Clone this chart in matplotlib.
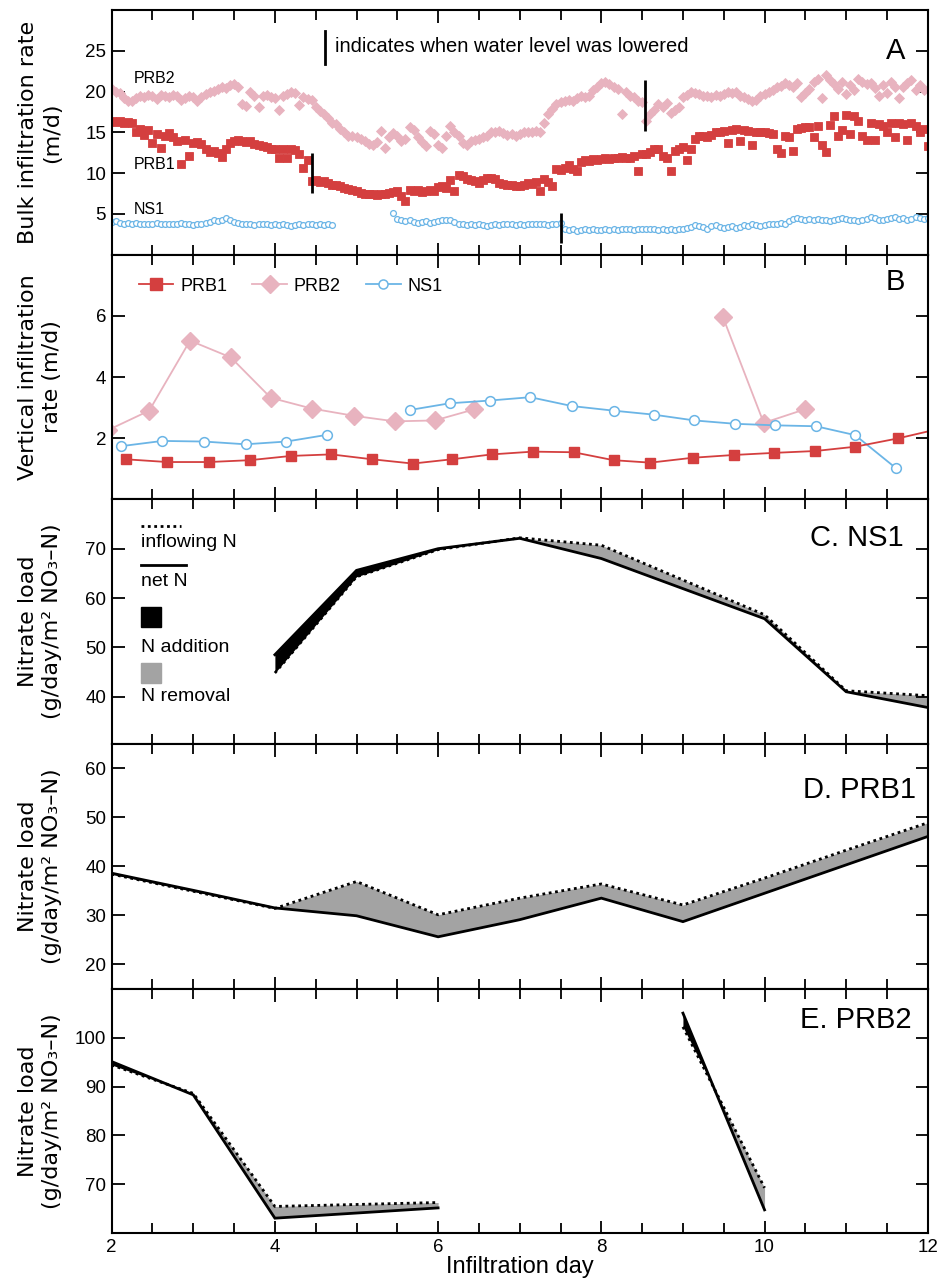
import numpy as np
import matplotlib
matplotlib.use("Agg")
import matplotlib.pyplot as plt
from matplotlib import font_manager as fm
from matplotlib.ticker import MultipleLocator, FixedLocator
from matplotlib.lines import Line2D
from matplotlib.patches import Rectangle


def has_font(name):
    try:
        fm.findfont(fm.FontProperties(family=name), fallback_to_default=False)
        return True
    except Exception:
        return False


TXT = 'Liberation Sans' if has_font('Liberation Sans') else 'DejaVu Sans'
LAB = 'DejaVu Sans'
plt.rcParams['font.family'] = [TXT, 'DejaVu Sans']

# ---------------- data ----------------
# Panel A: bulk infiltration rate (m/d), sampled every 0.05 day from day 2 to 12
a_days = np.round(np.arange(2.0, 12.0001, 0.05), 2)
a_prb1 = [
    16.4, 16.3, 16.4, 16.2, 16.3, 16.1, 15.0, 15.4, 14.7, 15.3,
    13.7, 14.8, 13.1, 14.6, 14.9, 14.4, 13.9, 11.1, 14.0, 12.1,
    13.7, 13.8, 13.6, 12.9, 12.6, 12.7, 12.5, 12.0, 13.0, 13.7,
    13.9, 14.0, 13.9, 13.8, 13.9, 13.6, 13.5, 13.3, 13.2, 13.0,
    13.0, 11.8, 13.0, 11.9, 13.0, 12.8, 12.3, 10.6, 11.6, 9.0,
    9.1, 8.9, 9.0, 8.8, 8.6, 8.5, 8.4, 8.2, 8.0, 7.9,
    7.8, 7.6, 7.5, 7.4, 7.4, 7.3, 7.5, 7.4, 7.6, 7.7,
    7.8, 7.2, 6.6, 7.9, 7.8, 7.9, 7.7, 7.8, 7.9, 7.8,
    8.3, 8.4, 8.2, 9.2, 7.8, 9.8, 9.6, 9.3, 9.1, 9.0,
    8.8, 9.2, 9.4, 9.4, 9.3, 8.8, 8.7, 8.6, 8.5, 8.4,
    8.4, 8.6, 8.8, 8.7, 8.9, 7.8, 9.3, 8.9, 8.4, 10.5,
    10.4, 10.6, 11.0, 10.5, 10.3, 11.4, 11.6, 11.5, 11.7, 11.6,
    11.7, 11.8, 11.7, 11.9, 11.9, 12.0, 11.9, 11.8, 12.1, 10.3,
    12.3, 12.4, 12.6, 12.9, 12.9, 12.1, 11.8, 10.2, 12.7, 13.0,
    13.2, 11.6, 12.9, 14.2, 14.5, 14.6, 14.4, 14.7, 15.0, 15.1,
    15.2, 13.7, 15.3, 15.4, 13.9, 15.3, 15.2, 13.5, 15.1, 15.0,
    15.0, 14.9, 14.8, 12.9, 12.5, 14.5, 14.4, 12.7, 15.4, 15.5,
    15.6, 15.7, 14.4, 15.8, 13.5, 12.6, 15.9, 17.0, 14.6, 15.3,
    17.1, 14.8, 17.0, 16.4, 14.6, 14.0, 16.2, 14.0, 16.0, 15.8,
    15.0, 16.2, 14.4, 16.1, 16.0, 14.1, 16.2, 15.8, 15.0, 15.4,
    13.3,
]
a_prb2 = [
    20.3, 20.0, 19.8, 19.2, 18.9, 18.8, 19.2, 19.5, 19.3, 19.6,
    19.4, 19.1, 19.6, 19.5, 19.3, 19.6, 19.4, 19.0, 19.2, 19.5,
    19.3, 18.9, 19.3, 19.7, 19.9, 20.1, 20.3, 20.5, 20.4, 20.8,
    20.9, 20.6, 18.5, 18.2, 19.9, 19.4, 18.1, 19.5, 19.6, 19.3,
    19.2, 17.7, 19.5, 19.7, 19.9, 19.8, 18.4, 19.3, 19.1, 19.0,
    18.1, 17.6, 17.2, 16.7, 16.2, 16.0, 15.4, 15.0, 14.6, 14.5,
    14.4, 14.2, 13.9, 13.6, 13.5, 13.8, 15.2, 13.1, 14.4, 14.9,
    14.5, 13.9, 14.2, 15.6, 15.3, 14.4, 13.8, 13.3, 15.2, 14.8,
    13.5, 13.1, 14.6, 15.8, 15.1, 14.6, 13.7, 13.4, 13.9, 14.1,
    14.2, 14.4, 14.6, 15.0, 15.1, 15.2, 14.9, 14.7, 14.8, 14.6,
    14.8, 15.0, 15.1, 15.0, 15.2, 15.1, 16.2, 17.3, 17.9, 18.5,
    18.7, 18.8, 19.0, 18.9, 19.2, 19.5, 19.3, 19.4, 20.2, 20.6,
    21.0, 21.2, 20.9, 20.5, 20.3, 17.2, 19.9, 19.5, 19.3, 18.8,
    18.7, 16.4, 17.2, 17.8, 18.5, 18.1, 18.6, 17.4, 17.8, 18.1,
    19.3, 19.6, 19.9, 19.8, 19.7, 19.5, 19.4, 19.3, 19.6, 19.5,
    19.7, 19.9, 19.8, 19.9, 19.5, 19.3, 19.1, 18.9, 19.0, 19.4,
    19.7, 19.9, 20.2, 20.5, 20.7, 21.0, 20.8, 20.5, 21.0, 19.3,
    19.8, 20.3, 21.2, 21.6, 19.2, 22.0, 21.4, 20.9, 20.3, 21.2,
    19.7, 20.8, 20.2, 21.6, 21.2, 20.9, 21.1, 20.4, 19.5, 20.8,
    19.8, 21.2, 20.5, 19.2, 20.6, 21.0, 21.4, 20.2, 20.8, 20.2,
    20.3,
]
nan = float('nan')
a_ns1 = [
    4.0, 4.1, 3.9, 3.8, 3.9, 3.8, 3.9, 3.8, 3.8, 3.7,
    3.8, 3.9, 3.8, 3.7, 3.8, 3.7, 3.8, 3.9, 3.8, 3.7,
    3.6, 3.7, 3.8, 3.9, 4.0, 4.2, 4.1, 4.3, 4.5, 4.2,
    4.0, 3.9, 3.8, 3.7, 3.8, 3.6, 3.7, 3.8, 3.7, 3.6,
    3.7, 3.6, 3.7, 3.6, 3.5, 3.6, 3.7, 3.6, 3.7, 3.8,
    3.6, 3.7, 3.6, 3.7, 3.6, nan, nan, nan, nan, nan,
    nan, nan, nan, nan, nan, nan, nan, nan, nan, 5.1,
    4.4, 4.3, 4.1, 4.2, 4.0, 3.9, 4.0, 4.1, 3.9, 4.0,
    4.1, 4.2, 4.3, 4.2, 4.0, 3.8, 3.7, 3.6, 3.7, 3.6,
    3.7, 3.6, 3.5, 3.6, 3.7, 3.6, 3.7, 3.8, 3.7, 3.6,
    3.7, 3.6, 3.7, 3.8, 3.7, 3.8, 3.7, 3.6, 3.7, 3.8,
    3.9, 3.1, 3.0, 3.1, 2.9, 3.0, 3.1, 3.0, 3.1, 3.0,
    3.0, 3.1, 3.0, 3.1, 3.0, 3.1, 3.2, 3.1, 3.0, 3.1,
    3.2, 3.1, 3.2, 3.1, 3.0, 3.1, 3.0, 3.1, 3.0, 3.1,
    3.2, 3.3, 3.4, 3.6, 3.5, 3.4, 3.2, 3.5, 3.6, 3.4,
    3.3, 3.4, 3.5, 3.3, 3.4, 3.6, 3.5, 3.7, 3.6, 3.5,
    3.6, 3.7, 3.8, 3.7, 3.9, 3.8, 4.1, 4.4, 4.5, 4.4,
    4.3, 4.4, 4.2, 4.4, 4.3, 4.2, 4.1, 4.2, 4.4, 4.5,
    4.4, 4.3, 4.2, 4.1, 4.2, 4.4, 4.6, 4.5, 4.3, 4.2,
    4.4, 4.5, 4.6, 4.4, 4.5, 4.3, 4.4, 4.6, 4.5, 4.4,
    4.5,
]
# water level lowering events (day, from, to) in panel A
lower_days = [4.45, 7.51, 8.54]
lower_from = [7.6, 1.4, 15.2]
lower_to = [12.5, 5.1, 21.4]

# Panel B: vertical infiltration rate (m/d)
b_prb1_days = [2.17, 2.68, 3.19, 3.69, 4.20, 4.69, 5.19, 5.69, 6.17, 6.66,
               7.16, 7.66, 8.15, 8.60, 9.12, 9.62, 10.12, 10.62, 11.11, 11.63, 12.13]
b_prb1 = [1.31, 1.22, 1.22, 1.28, 1.42, 1.47, 1.31, 1.17, 1.31, 1.47,
          1.56, 1.54, 1.28, 1.20, 1.36, 1.45, 1.52, 1.58, 1.72, 1.99, 2.30]
b_prb2_days_1 = [1.96, 2.46, 2.96, 3.46, 3.95, 4.45, 4.97, 5.47, 5.96, 6.44]
b_prb2_1 = [2.27, 2.90, 5.19, 4.64, 3.32, 2.97, 2.73, 2.55, 2.58, 2.94]
b_prb2_days_2 = [9.49, 9.99, 10.49]
b_prb2_2 = [5.96, 2.50, 2.94]
b_ns1_days_1 = [2.12, 2.62, 3.13, 3.64, 4.14, 4.64]
b_ns1_1 = [1.74, 1.91, 1.89, 1.80, 1.89, 2.11]
b_ns1_days_2 = [5.65, 6.14, 6.63, 7.13, 7.64, 8.15, 8.64, 9.14, 9.64, 10.13, 10.63, 11.11, 11.61]
b_ns1_2 = [2.92, 3.14, 3.23, 3.34, 3.05, 2.90, 2.77, 2.58, 2.47, 2.42, 2.39, 2.10, 1.02]

# Panel C: NS1 nitrate load
c_days = [4, 5, 6, 7, 8, 10, 11, 12]
c_inflow = [44.8, 64.3, 69.8, 72.2, 70.7, 56.6, 41.2, 40.2]
c_net = [48.5, 65.6, 70.0, 72.1, 68.0, 55.8, 41.0, 37.8]

# Panel D: PRB1 nitrate load
d_days = [2, 3, 4, 5, 6, 7, 8, 9, 10, 11, 12]
d_inflow = [38.4, 34.9, 31.4, 36.9, 30.1, 33.5, 36.4, 32.1, 37.6, 43.3, 48.9]
d_net = [38.6, 35.1, 31.5, 29.9, 25.6, 29.1, 33.5, 28.7, 34.5, 40.3, 46.1]

# Panel E: PRB2 nitrate load (two sampling periods)
e_days_1 = [2, 3, 4, 6]
e_inflow_1 = [94.4, 88.6, 65.5, 66.3]
e_net_1 = [95.1, 88.3, 63.1, 65.2]
e_days_2 = [9, 10]
e_inflow_2 = [102.2, 69.3]
e_net_2 = [105.0, 64.8]

# ---------------- style ----------------
RED = '#d43f3f'
PINK = '#e8b3bf'
BLUE = '#6bb5e6'
GREY = '#a3a3a3'
TICK_FS = 13.5
YLAB_FS = 16

fig = plt.figure(figsize=(9.44, 12.83), dpi=100)
gs = fig.add_gridspec(5, 1, left=0.1183, right=0.9828, bottom=0.0387, top=0.9922, hspace=0)
axes = [fig.add_subplot(gs[i]) for i in range(5)]

for i, ax in enumerate(axes):
    ax.set_xlim(2, 12)
    ax.xaxis.set_major_locator(MultipleLocator(2))
    ax.xaxis.set_minor_locator(MultipleLocator(0.5))
    ax.tick_params(axis='both', which='both', direction='in', top=True, right=True,
                   width=1.3, labelsize=TICK_FS, pad=4)
    ax.tick_params(axis='x', which='major', length=9)
    ax.tick_params(axis='x', which='minor', length=7.5)
    ax.tick_params(axis='y', which='major', length=9)
    for s in ax.spines.values():
        s.set_linewidth(1.5)
    if i < 4:
        ax.tick_params(axis='x', labelbottom=False)

# ---- Panel A ----
ax = axes[0]
ax.plot(a_days, a_prb2, ls='none', marker='D', ms=5.5, color=PINK, mec=PINK, mew=0.6)
ax.plot(a_days, a_prb1, ls='none', marker='s', ms=6.0, color=RED, mec=RED, mew=0.6)
ax.plot(a_days, a_ns1, ls='none', marker='o', ms=4.2, mfc='white', mec=BLUE, mew=0.9)
ax.vlines(lower_days, lower_from, lower_to, colors='black', lw=2)
ax.set_ylim(0, 30)
ax.yaxis.set_major_locator(FixedLocator([5, 10, 15, 20, 25]))
ax.set_ylabel('Bulk infiltration rate\n(m/d)', fontsize=YLAB_FS, family=LAB, linespacing=1.25)
ax.plot([0.261, 0.261], [0.78, 0.913], transform=ax.transAxes, color='black', lw=2)
ax.text(0.274, 0.85, 'indicates when water level was lowered', transform=ax.transAxes,
        fontsize=14.5, va='center', ha='left')
ax.text(0.027, 0.72, 'PRB2', transform=ax.transAxes, fontsize=11.5, va='center')
ax.text(0.027, 0.37, 'PRB1', transform=ax.transAxes, fontsize=11.5, va='center')
ax.text(0.027, 0.183, 'NS1', transform=ax.transAxes, fontsize=11.5, va='center')
ax.text(0.972, 0.833, 'A', transform=ax.transAxes, fontsize=21, ha='right', va='center')

# ---- Panel B ----
ax = axes[1]
ax.plot(b_prb2_days_1, b_prb2_1, '-', marker='D', ms=9, color=PINK, lw=1.3)
ax.plot(b_prb2_days_2, b_prb2_2, '-', marker='D', ms=9, color=PINK, lw=1.3)
ax.plot(b_ns1_days_1, b_ns1_1, '-', marker='o', ms=7, mfc='white', mec=BLUE, mew=1.1, color=BLUE, lw=1.3)
ax.plot(b_ns1_days_2, b_ns1_2, '-', marker='o', ms=7, mfc='white', mec=BLUE, mew=1.1, color=BLUE, lw=1.3)
ax.plot(b_prb1_days, b_prb1, '-', marker='s', ms=7.5, color=RED, lw=1.3)
ax.set_ylim(0, 8)
ax.yaxis.set_major_locator(FixedLocator([2, 4, 6]))
ax.set_ylabel('Vertical infiltration\nrate (m/d)', fontsize=YLAB_FS, family=LAB, linespacing=1.25)
handles = [
    Line2D([], [], color=RED, marker='s', ms=8, lw=1.3),
    Line2D([], [], color=PINK, marker='D', ms=9, lw=1.3),
    Line2D([], [], color=BLUE, marker='o', ms=6.5, mfc='white', mec=BLUE, mew=1.1, lw=1.3),
]
ax.legend(handles, ['PRB1', 'PRB2', 'NS1'], loc='center left', bbox_to_anchor=(0.033, 0.871),
          ncol=3, frameon=False, fontsize=13, handlelength=1.9, handletextpad=0.4,
          columnspacing=1.4, borderaxespad=0, borderpad=0)
ax.text(0.972, 0.89, 'B', transform=ax.transAxes, fontsize=21, ha='right', va='center')


def load_panel(ax, days, inflow, net):
    d = np.asarray(days, float)
    i_ = np.asarray(inflow, float)
    n_ = np.asarray(net, float)
    ax.fill_between(d, i_, n_, where=n_ >= i_, interpolate=True, color='black', lw=0)
    ax.fill_between(d, i_, n_, where=n_ <= i_, interpolate=True, color=GREY, lw=0)
    ax.plot(d, n_, color='black', lw=2.0, solid_joinstyle='miter')
    ax.plot(d, i_, color='black', lw=2.0, ls=(0, (1, 1.3)))


# ---- Panel C ----
ax = axes[2]
load_panel(ax, c_days, c_inflow, c_net)
ax.set_ylim(30.4, 80)
ax.yaxis.set_major_locator(FixedLocator([40, 50, 60, 70]))
ax.text(0.97, 0.84, 'C. NS1', transform=ax.transAxes, fontsize=21, ha='right', va='center')
# key
tr = ax.transAxes
ax.plot([0.036, 0.085], [0.89, 0.89], transform=tr, color='black', lw=2.0, ls=(0, (1, 1.3)))
ax.text(0.036, 0.825, 'inflowing N', transform=tr, fontsize=14, va='center', ha='left')
ax.plot([0.036, 0.091], [0.732, 0.732], transform=tr, color='black', lw=2.0)
ax.text(0.036, 0.665, 'net N', transform=tr, fontsize=14, va='center', ha='left')
ax.add_patch(Rectangle((0.036, 0.48), 0.024, 0.078, transform=tr, color='black'))
ax.text(0.036, 0.395, 'N addition', transform=tr, fontsize=14, va='center', ha='left')
ax.add_patch(Rectangle((0.036, 0.25), 0.024, 0.082, transform=tr, color=GREY))
ax.text(0.036, 0.195, 'N removal', transform=tr, fontsize=14, va='center', ha='left')

# ---- Panel D ----
ax = axes[3]
load_panel(ax, d_days, d_inflow, d_net)
ax.set_ylim(15, 65)
ax.yaxis.set_major_locator(FixedLocator([20, 30, 40, 50, 60]))
ax.text(0.985, 0.814, 'D. PRB1', transform=ax.transAxes, fontsize=21, ha='right', va='center')

# ---- Panel E ----
ax = axes[4]
load_panel(ax, e_days_1, e_inflow_1, e_net_1)
load_panel(ax, e_days_2, e_inflow_2, e_net_2)
ax.set_ylim(60, 110)
ax.yaxis.set_major_locator(FixedLocator([70, 80, 90, 100]))
ax.text(0.98, 0.872, 'E. PRB2', transform=ax.transAxes, fontsize=21, ha='right', va='center')
ax.set_xlabel('Infiltration day', fontsize=17, labelpad=0)

for ax in axes[2:]:
    ax.set_ylabel('Nitrate load\n(g/day/m\u00b2 NO\u2083\u2013N)', fontsize=YLAB_FS, family=LAB,
                  linespacing=1.25)

for ax in axes:
    ax.yaxis.set_label_coords(-0.061, 0.5)

fig.savefig('out.png', dpi=100)
